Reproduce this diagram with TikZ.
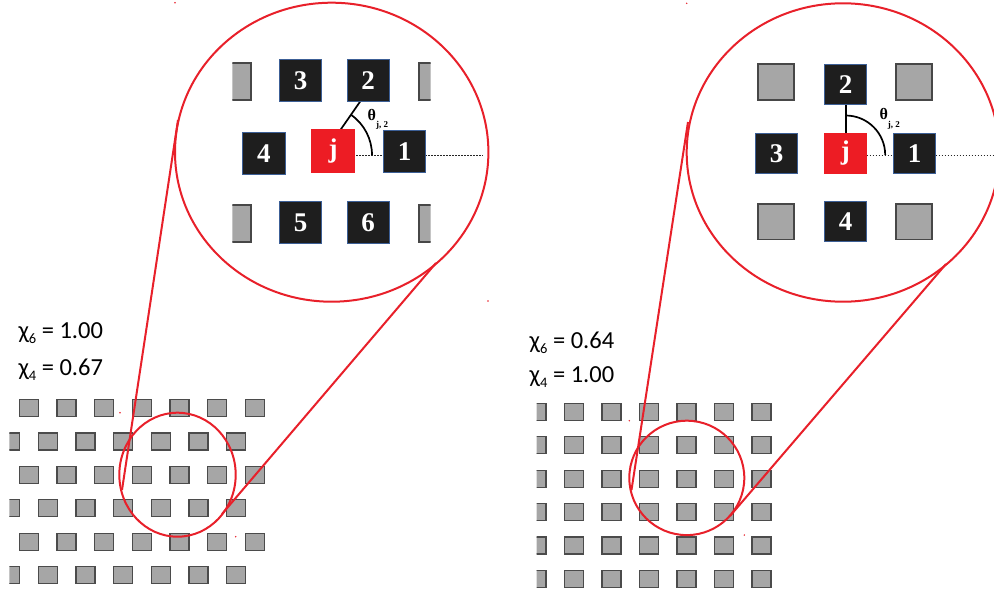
\documentclass[tikz,border=0pt]{standalone}
\usepackage{fontspec}
\setmainfont{Liberation Serif}
\newfontfamily\labfont{Carlito}
\definecolor{redc}{RGB}{232,32,42}
\definecolor{latfill}{RGB}{166,166,166}
\definecolor{latdraw}{RGB}{75,75,75}
\definecolor{blkfill}{RGB}{30,30,30}
\definecolor{blkdraw}{RGB}{60,95,150}
\definecolor{jred}{RGB}{237,28,36}
\tikzset{
  latsq/.style={draw=latdraw, fill=latfill, line width=1.2pt, minimum width=19pt, minimum height=17pt, inner sep=0pt},
  bigsq/.style={draw=black!72, fill=latfill, line width=1.8pt, minimum width=36pt, minimum height=36pt, inner sep=0pt},
  blksq/.style={draw=blkdraw, fill=blkfill, line width=0.8pt, minimum width=42.4pt, minimum height=42.4pt, inner sep=0pt, text=white, font=\bfseries\fontsize{27}{27}\selectfont},
  jsq/.style={blksq, draw=jred, fill=jred},
  zoomc/.style={draw=redc, line width=2pt},
  zoomline/.style={draw=redc, line width=2pt},
  dotline/.style={draw=black!85, line width=0.8pt, dash pattern=on 1.6pt off 1.4pt},
  angline/.style={draw=black, line width=1.7pt},
  chilabel/.style={anchor=base west, inner sep=0pt, font=\labfont\fontsize{24.5}{24.5}\selectfont},
  thlabel/.style={anchor=base west, inner sep=0pt, font=\bfseries\fontsize{16}{16}\selectfont},
  speck/.style={fill=redc, draw=none}
}
\newcommand{\chisub}[1]{\raisebox{-5pt}{\fontsize{14.5}{14.5}\selectfont #1}}
\newcommand{\thsub}{\raisebox{-7.5pt}{\fontsize{9}{9}\selectfont j, 2}}
\begin{document}
\begin{tikzpicture}[x=1pt,y=-1pt]
\useasboundingbox (0,0) rectangle (994,592);

% ---------- left lattice (hexagonal) ----------
\begin{scope}
  \clip (9.3,380) rectangle (300,600);
  \foreach \r in {0,...,5}{
    \foreach \k in {0,...,6}{
      \pgfmathsetmacro{\xx}{28.7-18.7*mod(\r,2)+37.7*\k}
      \pgfmathsetmacro{\yy}{408+33.4*\r}
      \node[latsq] (L-\r-\k) at (\xx,\yy) {};
    }
  }
\end{scope}

% ---------- right lattice (square) ----------
\begin{scope}
  \clip (536.7,380) rectangle (800,600);
  \foreach \r in {0,...,5}{
    \foreach \k in {0,...,6}{
      \pgfmathsetmacro{\xx}{536.5+37.5*\k}
      \pgfmathsetmacro{\yy}{412+33.35*\r}
      \node[latsq] (R-\r-\k) at (\xx,\yy) {};
    }
  }
\end{scope}

% ---------- order parameter labels ----------
\node[chilabel] (chiL6) at (18.3,338.3) {χ\chisub{6} = 1.00};
\node[chilabel] (chiL4) at (18.3,375) {χ\chisub{4} = 0.67};
\node[chilabel] (chiR6) at (529.5,348.3) {χ\chisub{6} = 0.64};
\node[chilabel] (chiR4) at (529.5,382) {χ\chisub{4} = 1.00};

% ---------- left magnified view ----------
\coordinate (Lc) at (323,155);
\coordinate (Lend) at (483.3,155);
\coordinate (Ltip) at (364,96);
\draw[dotline] (Lc) -- (Lend);
\draw[angline] (Lc) -- (Ltip);
\draw[angline] (Lc) ++(0:49pt) arc[start angle=0, end angle=55, radius=49pt];
\begin{scope}
  \clip (232.3,0) rectangle (430.7,300);
  \node[bigsq, minimum width=37pt, minimum height=36.7pt] (Lg1) at (232.5,81.7) {};
  \node[bigsq, minimum width=37pt, minimum height=36.7pt] (Lg2) at (437.6,81.7) {};
  \node[bigsq, minimum width=37pt, minimum height=36.7pt] (Lg3) at (232.5,223.3) {};
  \node[bigsq, minimum width=37pt, minimum height=36.7pt] (Lg4) at (437.6,223.3) {};
\end{scope}
\node[blksq] (L3) at (300.5,80.5) {3};
\node[blksq] (L2) at (368.2,80.5) {2};
\node[blksq] (L4) at (263.8,153.3) {4};
\node[jsq]   (Lj) at (333,151) {j};
\node[blksq] (L1) at (404.5,151.2) {1};
\node[blksq] (L5) at (300.5,222.3) {5};
\node[blksq] (L6) at (368.2,222.3) {6};
\node[thlabel] (Lth) at (367.5,120) {θ\thsub};

% ---------- right magnified view ----------
\coordinate (Rc) at (845.7,155);
\coordinate (Rend) at (996,155);
\coordinate (Rtip) at (845.7,100);
\draw[dotline] (Rc) -- (Rend);
\draw[angline] (Rc) -- (Rtip);
\draw[angline] (Rc) ++(0:39.5pt) arc[start angle=0, end angle=90, radius=39.5pt];
\node[bigsq, minimum width=35.7pt, minimum height=35.7pt] (Rg1) at (776.2,82.2) {};
\node[bigsq, minimum width=35.7pt, minimum height=35.7pt] (Rg2) at (913.8,82.2) {};
\node[bigsq, minimum width=35.7pt, minimum height=35.7pt] (Rg3) at (776.2,221.7) {};
\node[bigsq, minimum width=35.7pt, minimum height=35.7pt] (Rg4) at (913.8,221.7) {};
\node[blksq, minimum height=40.3pt] (R2) at (845.5,84.2) {2};
\node[blksq, minimum height=40.3pt] (R3) at (776.5,153.5) {3};
\node[jsq, minimum height=40.3pt]   (Rj) at (845.3,153.5) {j};
\node[blksq, minimum height=40.3pt] (R1) at (914.5,153.5) {1};
\node[blksq, minimum height=40.3pt] (R4) at (845.5,221.2) {4};
\node[thlabel] (Rth) at (879.3,119.5) {θ\thsub};

% ---------- zoom circles ----------
\draw[zoomc] (331.7,152.2) ellipse [x radius=156.7pt, y radius=149.5pt];
\draw[zoomc] (177.5,474.7) ellipse [x radius=58.2pt, y radius=62pt];
\draw[zoomc] (843,152.5) ellipse [x radius=156.3pt, y radius=149.2pt];
\draw[zoomc] (686.8,477.9) ellipse [x radius=57.5pt, y radius=57.2pt];

% ---------- connecting lines ----------
\coordinate (LuS) at (122,490);
\coordinate (LuB) at (178,120);
\coordinate (LlS) at (222,514);
\coordinate (LlB) at (436,263);
\coordinate (RuS) at (631.5,490);
\coordinate (RuB) at (688,122);
\coordinate (RlS) at (730,516);
\coordinate (RlB) at (946,264);
\draw[zoomline] (LuS) -- (LuB);
\draw[zoomline] (LlS) -- (LlB);
\draw[zoomline] (RuS) -- (RuB);
\draw[zoomline] (RlS) -- (RlB);

% ---------- tiny red specks ----------
\foreach \p in {(175,2.7),(488,301),(686.7,3.3),(120,412.7),(235.7,536.7),(629.3,420.7),(744.3,535)}{
  \fill[speck] \p circle (0.8pt);
}
\end{tikzpicture}
\end{document}
